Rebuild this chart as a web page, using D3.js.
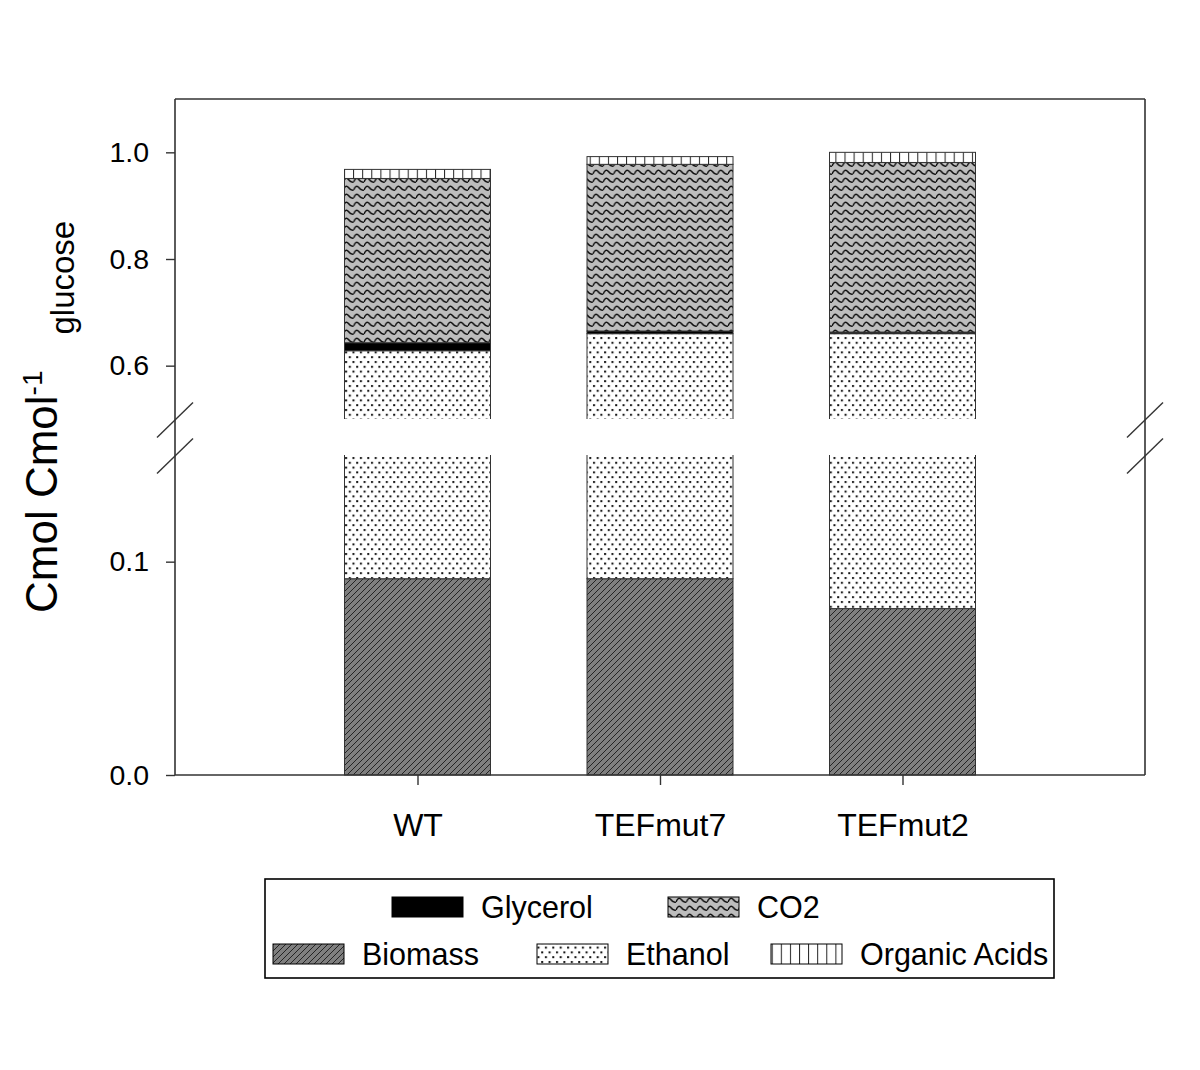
<!DOCTYPE html>
<html><head><meta charset="utf-8">
<script src="https://cdn.jsdelivr.net/npm/d3@7"></script>
<style>html,body{margin:0;padding:0;background:#fff;} svg{display:block;font-family:"Liberation Sans",Arial,sans-serif;}</style>
</head><body>
<svg id="chart" width="1200" height="1070"></svg>
<script>
// ---- data ----
const categories = ["WT", "TEFmut7", "TEFmut2"];
const biomass = [0.092, 0.092, 0.078];
const ethanol = [0.536, 0.568, 0.582];
const glycerol = [0.015, 0.005, 0.003];
const co2 = [0.308, 0.3125, 0.318];
const organicAcids = [0.017, 0.0145, 0.019];
const seriesNames = ["Biomass", "Ethanol", "Glycerol", "CO2", "Organic Acids"];
const yTickValues = [0.0, 0.1, 0.6, 0.8, 1.0];
const yBreak = [0.15, 0.5];

const table = categories.map((c, i) => ({
  cat: c, "Biomass": biomass[i], "Ethanol": ethanol[i], "Glycerol": glycerol[i],
  "CO2": co2[i], "Organic Acids": organicAcids[i]
}));

const svg = d3.select("#chart");
const L = 175, R = 1145, T = 99, B = 775;
const breakLowPx = 455, breakHighPx = 419;

const x = d3.scalePoint().domain(categories).range([L, R]).padding(1);
const y = d3.scaleLinear().domain([0, yBreak[0], yBreak[1], 1.1]).range([B, breakLowPx, breakHighPx, T]);
const barW = 146;

// ---- patterns ----
const defs = svg.append("defs");
const pB = defs.append("pattern").attr("id", "pBiomass").attr("patternUnits", "userSpaceOnUse").attr("width", 6).attr("height", 6);
pB.append("rect").attr("width", 6).attr("height", 6).attr("fill", "#7f7f7f");
pB.append("path").attr("d", "M-1,7 L7,-1 M-4,4 L4,-4 M2,10 L10,2").attr("stroke", "#1a1a1a").attr("stroke-width", 0.9).attr("fill", "none");

const pE = defs.append("pattern").attr("id", "pEthanol").attr("patternUnits", "userSpaceOnUse").attr("width", 7.4).attr("height", 9.6);
pE.append("rect").attr("width", 7.4).attr("height", 9.6).attr("fill", "#fff");
pE.append("rect").attr("x", 1).attr("y", 1).attr("width", 2).attr("height", 2).attr("fill", "#111");
pE.append("rect").attr("x", 4.7).attr("y", 5.8).attr("width", 2).attr("height", 2).attr("fill", "#111");

const pC = defs.append("pattern").attr("id", "pCO2").attr("patternUnits", "userSpaceOnUse").attr("width", 10.4).attr("height", 8);
pC.append("rect").attr("width", 10.4).attr("height", 8).attr("fill", "#bdbdbd");
pC.append("path").attr("d", "M0,6 Q2.6,0 5.2,3.5 T10.4,6").attr("stroke", "#111").attr("stroke-width", 1.5).attr("fill", "none");

const pO = defs.append("pattern").attr("id", "pOA").attr("patternUnits", "userSpaceOnUse").attr("width", 9.1).attr("height", 10).attr("x", 344);
pO.append("rect").attr("width", 9.1).attr("height", 10).attr("fill", "#fff");
pO.append("line").attr("x1", 0.5).attr("x2", 0.5).attr("y1", 0).attr("y2", 10).attr("stroke", "#222").attr("stroke-width", 1);

const fills = {
  "Biomass": "url(#pBiomass)", "Ethanol": "url(#pEthanol)", "Glycerol": "#000",
  "CO2": "url(#pCO2)", "Organic Acids": "url(#pOA)"
};

// ---- bars ----
const stacked = d3.stack().keys(seriesNames)(table);
svg.append("g").selectAll("g").data(stacked).join("g")
  .attr("fill", d => fills[d.key])
  .selectAll("rect").data(d => d).join("rect")
  .attr("x", d => x(d.data.cat) - barW / 2)
  .attr("width", barW)
  .attr("y", d => y(d[1]))
  .attr("height", d => y(d[0]) - y(d[1]))
  .attr("stroke", "#333").attr("stroke-width", 1);

svg.append("rect").attr("x", L + 1).attr("y", breakHighPx).attr("width", R - L - 2).attr("height", breakLowPx - breakHighPx).attr("fill", "#fff");

// ---- frame / axes ----
const frame = svg.append("g").attr("stroke", "#333").attr("stroke-width", 1.6).attr("fill", "none");
frame.append("line").attr("x1", L).attr("x2", R).attr("y1", T).attr("y2", T);
frame.append("line").attr("x1", L).attr("x2", L).attr("y1", T).attr("y2", B);
frame.append("line").attr("x1", R).attr("x2", R).attr("y1", T).attr("y2", B);
frame.append("line").attr("x1", L).attr("x2", R).attr("y1", B).attr("y2", B);

const breaks = svg.append("g").attr("stroke", "#333").attr("stroke-width", 1.4);
[L, R].forEach(ax => {
  [420, 456].forEach(cy => {
    breaks.append("line").attr("x1", ax - 18).attr("y1", cy + 17.5).attr("x2", ax + 18).attr("y2", cy - 17.5);
  });
});

const yAxis = svg.append("g").attr("transform", `translate(${L},0)`)
  .call(d3.axisLeft(y).tickValues(yTickValues).tickFormat(d3.format(".1f")).tickSize(9).tickPadding(17));
yAxis.select(".domain").remove();
yAxis.selectAll("line").attr("stroke", "#333").attr("stroke-width", 1.4);
yAxis.selectAll("text").attr("font-size", 28.5).attr("fill", "#000").attr("font-family", "Liberation Sans, Arial, sans-serif");

const xAxis = svg.append("g").attr("transform", `translate(0,${B})`)
  .call(d3.axisBottom(x).tickSize(10).tickPadding(28));
xAxis.select(".domain").remove();
xAxis.selectAll("line").attr("stroke", "#333").attr("stroke-width", 1.4);
xAxis.selectAll("text").attr("font-size", 32).attr("fill", "#000").attr("font-family", "Liberation Sans, Arial, sans-serif");

// ---- y label ----
const yl = svg.append("text").attr("transform", "translate(57,613) rotate(-90)").attr("fill", "#000");
yl.append("tspan").attr("font-size", 44).text("Cmol Cmol");
yl.append("tspan").attr("font-size", 28).attr("dy", -15).text("-1");
yl.append("tspan").attr("font-size", 33).attr("dy", 32).attr("dx", 36).text("glucose");

// ---- legend ----
const lg = svg.append("g");
lg.append("rect").attr("x", 265).attr("y", 879).attr("width", 789).attr("height", 99).attr("fill", "#fff").attr("stroke", "#000").attr("stroke-width", 1.6);
const legendItems = [
  { key: "Glycerol", sx: 392, cy: 907 },
  { key: "CO2", sx: 668, cy: 907 },
  { key: "Biomass", sx: 273, cy: 954 },
  { key: "Ethanol", sx: 537, cy: 954 },
  { key: "Organic Acids", sx: 771, cy: 954 }
];
legendItems.forEach(it => {
  lg.append("rect").attr("x", it.sx).attr("y", it.cy - 10).attr("width", 71).attr("height", 20)
    .attr("fill", fills[it.key]).attr("stroke", "#000").attr("stroke-width", 1);
  lg.append("text").attr("x", it.sx + 89).attr("y", it.cy).attr("dy", "0.36em")
    .attr("font-size", 30.5).attr("fill", "#000").text(it.key);
});
</script>
</body></html>
